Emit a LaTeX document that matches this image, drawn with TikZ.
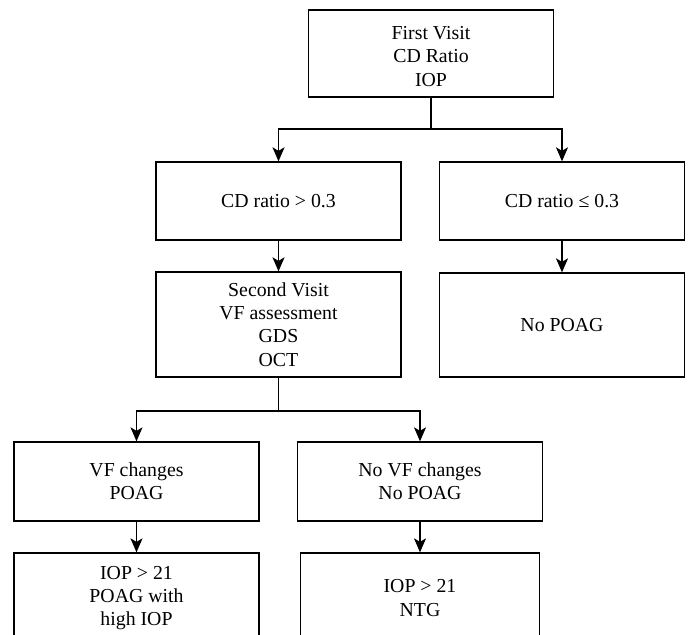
\documentclass[tikz,border=0pt]{standalone}
\usepackage{fontspec}
\setmainfont{Liberation Serif}
\usetikzlibrary{arrows.meta}
\tikzset{
  txt/.style={align=center, inner sep=0pt, font=\fontsize{19.8bp}{23.4bp}\selectfont},
  box/.style={txt, draw, line width=1.3bp, rectangle, minimum width=245bp},
  arr/.style={line width=1.3bp, -{Stealth[length=14bp,width=12bp,inset=3.5bp]}},
  ln/.style={line width=1.3bp}
}
\begin{document}
\begin{tikzpicture}[x=1bp,y=-1bp]
\useasboundingbox (0,0) rectangle (689,635);
\clip (0,0) rectangle (689,635);
\node[box, minimum height=87bp] (top) at (431,53.5) {};
\node[txt] (toptext) at ([yshift=-3bp]top.center) {First Visit\\CD Ratio\\IOP};
\node[box, minimum height=78bp] (cdhi) at (278.5,201) {CD ratio > 0.3};
\node[box, minimum height=78bp] (cdlo) at (562,201) {CD ratio ≤ 0.3};
\node[box, minimum height=105bp] (second) at (278.5,324.5) {Second Visit\\VF assessment\\GDS\\OCT};
\node[box, minimum height=104bp] (nopoag) at (562,325) {No POAG};
\node[box, minimum height=79bp] (vf) at (136.5,481.5) {VF changes\\POAG};
\node[box, minimum height=79bp] (novf) at (420,481.5) {No VF changes\\No POAG};
\node[box, minimum height=90bp] (iophi) at (136.5,598) {IOP > 21\\POAG with\\high IOP};
\node[box, minimum height=90bp, minimum width=239bp] (ntg) at (420,598) {IOP > 21\\NTG};
\coordinate (split1) at (431,129);
\coordinate (split2) at (278.5,411);
\draw[ln] (top.south) -- (split1);
\draw[arr] (split1) -| (cdhi.north);
\draw[arr] (split1) -| (cdlo.north);
\draw[arr] (cdhi.south) -- (second.north);
\draw[arr] (cdlo.south) -- (nopoag.north);
\draw[ln] (second.south) -- (split2);
\draw[arr] (split2) -| (vf.north);
\draw[arr] (split2) -| (novf.north);
\draw[arr] (vf.south) -- (iophi.north);
\draw[arr] (novf.south) -- (ntg.north);
\end{tikzpicture}
\end{document}
